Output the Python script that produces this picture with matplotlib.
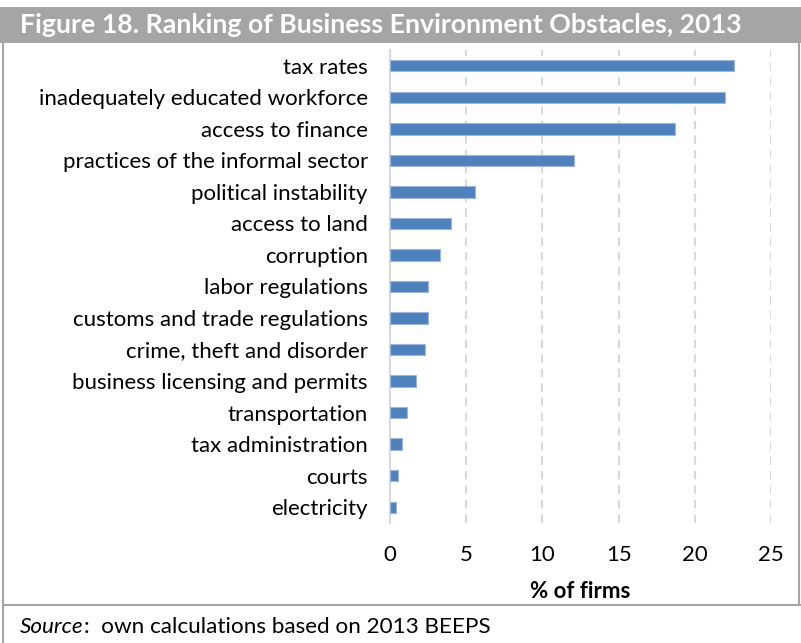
import matplotlib.pyplot as plt
from matplotlib.patches import Rectangle
from matplotlib.lines import Line2D

categories = ["tax rates", "inadequately educated workforce", "access to finance",
              "practices of the informal sector", "political instability", "access to land",
              "corruption", "labor regulations", "customs and trade regulations",
              "crime, theft and disorder", "business licensing and permits",
              "transportation", "tax administration", "courts", "electricity"]
values = [22.6, 22.0, 18.7, 12.1, 5.6, 4.0, 3.3, 2.5, 2.5, 2.3, 1.7, 1.1, 0.8, 0.5, 0.4]
xticks = [0, 5, 10, 15, 20, 25]

plt.rcParams['font.family'] = ['Lato', 'DejaVu Sans']

fig = plt.figure(figsize=(8.01, 6.43), dpi=100)
W, H = 801, 643

# title bar
fig.patches.append(Rectangle((0, 1 - 43 / H), 1, 36 / H, transform=fig.transFigure,
                             facecolor="#a5a5a5", edgecolor="none"))
fig.text(20 / W, 1 - 25 / H, "Figure 18. Ranking of Business Environment Obstacles, 2013",
         color="white", fontsize=19.3, fontweight="bold", va="center", ha="left")

# frame around chart
border = "#a5a5a5"
fig.lines.append(Line2D([3 / W, 3 / W], [0, 1 - 43 / H], transform=fig.transFigure, color=border, lw=1.5))
fig.lines.append(Line2D([799 / W, 799 / W], [1 - 605 / H, 1 - 43 / H], transform=fig.transFigure, color=border, lw=1.5))
fig.lines.append(Line2D([3 / W, 1], [1 - 605 / H, 1 - 605 / H], transform=fig.transFigure, color=border, lw=1.5))

ax = fig.add_axes([390 / W, 1 - 523 / H, 381 / W, 473 / H])
y = range(len(categories))
ax.barh(y, values, height=0.36, color="#4f81bd", edgecolor="#9db6d9", linewidth=0.8, zorder=3)
ax.set_ylim(len(categories) - 0.5, -0.5)
ax.set_xlim(0, 25)
ax.set_yticks(list(y))
ax.set_yticklabels(categories, fontsize=16)
ax.set_xticks(xticks)
ax.set_xticklabels([str(t) for t in xticks], fontsize=16)
ax.tick_params(axis="both", length=0)
ax.tick_params(axis="y", pad=16)
ax.tick_params(axis="x", pad=16)
ax.grid(axis="x", color="#d9d9d9", linestyle=(0, (4, 3)), linewidth=1.5, zorder=0)
for s in ["top", "right", "bottom"]:
    ax.spines[s].set_visible(False)
ax.spines["left"].set_color("#d9d9d9")
ax.spines["left"].set_linewidth(1.5)
ax.set_xlabel("% of firms", fontsize=16, fontweight="bold", labelpad=11)

# source line: italic word followed by plain text
src = fig.text(20 / W, 1 - 627 / H, "Source", fontsize=16.2, style="italic", va="center", ha="left")
r = fig.canvas.get_renderer()
bb = src.get_window_extent(renderer=r)
fig.text(bb.x1 / W, 1 - 627 / H, ":  own calculations based on 2013 BEEPS", fontsize=16.2,
         va="center", ha="left")

plt.savefig("out.png", dpi=100)
